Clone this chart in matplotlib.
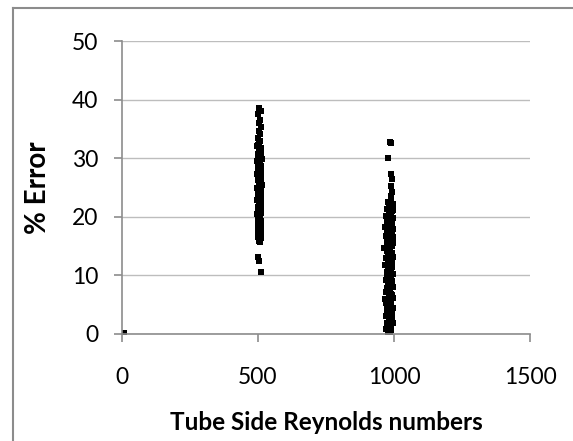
import matplotlib.pyplot as plt
from matplotlib.lines import Line2D

# points (Reynolds number, % error)
re_low = [8]
err_low = [0.2]

re_500 = [505, 512, 501, 509, 505, 511, 503, 508, 501, 509, 505, 498, 511, 502, 508,
          499, 511, 505, 513, 498, 508, 502, 512, 499, 505, 511, 502, 497, 508, 512,
          505, 499, 511, 502, 513, 508, 497, 505, 511, 499, 502, 512, 508, 505, 497,
          511, 502, 508, 499, 512, 505, 502, 511, 497, 508, 505, 499, 512, 502, 508,
          505, 511, 499, 502, 508, 512, 505, 499, 511, 502, 508, 505, 499, 512, 508,
          502, 511, 505, 499, 508, 505, 512, 502, 508, 499, 505, 511, 502,
          500, 506, 510, 503, 507, 500, 504, 509, 501, 506, 510, 503, 507, 500, 504,
          509, 501, 506, 510, 503, 507, 500, 504, 509, 501, 506, 510, 503, 507, 500,
          504, 509, 501, 506, 510, 503, 507, 500, 504, 509, 501, 506, 510, 503, 507]
err_500 = [38.6, 38.1, 37.6, 36.6, 36.0, 35.3, 34.7, 34.1, 33.5, 33.0, 32.4, 32.0, 31.7, 31.3, 31.0,
           30.8, 30.4, 30.1, 29.9, 29.6, 29.2, 29.0, 28.7, 28.5, 28.1, 27.9, 27.6, 27.3, 27.0, 26.8,
           26.5, 26.2, 26.0, 25.7, 25.5, 25.2, 24.9, 24.6, 24.4, 24.1, 23.8, 23.6, 23.3, 23.0, 22.8,
           22.5, 22.2, 22.0, 21.7, 21.5, 21.2, 20.9, 20.6, 20.4, 20.1, 19.8, 19.6, 19.3, 19.0, 18.8,
           18.5, 18.2, 18.0, 17.7, 17.5, 17.2, 16.9, 16.6, 16.3, 16.0, 15.7, 15.9, 17.1, 18.6, 20.7,
           22.6, 24.2, 26.3, 28.2, 30.5, 31.5, 27.4, 23.1, 19.4, 13.2, 12.5, 10.6, 29.4,
           32.2, 31.8, 31.1, 30.6, 30.0, 29.5, 28.9, 28.4, 27.8, 27.2, 26.7, 26.1, 25.6, 25.0, 24.5,
           23.9, 23.4, 22.9, 22.3, 21.8, 21.3, 20.8, 20.2, 19.7, 19.1, 18.6, 18.1, 17.6, 17.0, 16.5,
           30.3, 28.8, 27.1, 25.3, 23.7, 21.9, 20.3, 18.9, 17.4, 16.1, 29.7, 26.6, 24.0, 21.0, 18.3]

re_1000 = [984, 990, 978, 990, 992, 988, 991, 989, 988, 982, 996, 986, 974, 994, 980,
           990, 972, 998, 984, 976, 992, 982, 966, 996, 986, 978, 990, 970, 998, 984,
           974, 988, 980, 994, 964, 986, 976, 992, 982, 998, 972, 984, 990, 978, 968,
           994, 980, 986, 974, 996, 982, 988, 970, 992, 978, 984, 998, 976, 986, 972,
           990, 980, 994, 966, 984, 976, 988, 982, 996, 974, 986, 978, 992, 970, 984,
           980, 994, 976, 988, 982, 972, 990, 978, 986, 998, 974, 984, 980, 992, 976,
           988, 982, 970, 994, 978, 986, 984, 974, 990, 980, 996, 976, 986, 982, 972,
           992, 978, 988, 984, 974,
           977, 985, 993, 981, 989, 975, 983, 991, 979, 987, 995, 973, 981, 989, 977,
           985, 993, 979, 987, 975, 983, 991, 977, 985, 993, 981, 989, 973, 983, 991,
           979, 987, 995, 975, 985, 993, 981, 989, 977, 983, 991, 979, 987, 975, 985]
err_1000 = [32.8, 32.6, 30.0, 27.3, 26.4, 25.2, 24.3, 23.5, 22.8, 22.4, 22.1, 21.7, 21.4, 21.0, 20.7,
            20.4, 20.1, 19.8, 19.5, 19.2, 18.9, 18.6, 18.3, 18.0, 17.7, 17.4, 17.1, 16.8, 16.5, 16.2,
            15.9, 15.6, 15.3, 15.0, 14.7, 14.4, 14.1, 13.8, 13.5, 13.2, 12.9, 12.6, 12.3, 12.0, 11.7,
            11.4, 11.1, 10.8, 10.5, 10.2, 9.9, 9.6, 9.3, 9.0, 8.7, 8.4, 8.1, 7.8, 7.5, 7.2,
            6.9, 6.6, 6.3, 6.0, 5.7, 5.4, 5.1, 4.8, 4.5, 4.2, 3.9, 3.6, 3.3, 3.0, 2.7,
            2.4, 2.1, 1.8, 1.5, 1.2, 0.9, 0.6, 0.3, 0.1, 21.2, 19.0, 16.0, 14.9, 12.4, 10.0,
            8.9, 7.0, 5.3, 3.1, 1.0, 17.9, 15.4, 13.0, 11.0, 9.4, 6.1, 4.0, 2.2, 0.5, 20.2,
            16.7, 12.2, 8.0, 4.6, 1.4,
            22.6, 21.9, 21.1, 20.5, 19.7, 19.0, 18.2, 17.5, 16.9, 16.1, 15.5, 14.8, 14.2, 13.6, 12.8,
            12.1, 11.5, 10.9, 10.3, 9.7, 9.1, 8.5, 7.9, 7.3, 6.7, 6.0, 5.4, 4.9, 4.3, 3.7,
            3.2, 2.6, 1.9, 1.3, 0.7, 18.4, 15.1, 11.9, 8.6, 5.6, 2.9, 13.3, 7.6, 17.3, 10.6]

x_ticks = [0, 500, 1000, 1500]
y_ticks = [0, 10, 20, 30, 40, 50]

plt.rcParams['font.family'] = ['Lato', 'DejaVu Sans']

fig = plt.figure(figsize=(5.73, 4.41), dpi=100)
ax = fig.add_axes([122 / 573, 107 / 441, 408 / 573, 293 / 441])

ax.plot(re_low + re_500 + re_1000, err_low + err_500 + err_1000, 's',
        color='black', markersize=4.2, markeredgewidth=0)

ax.set_xlim(0, 1500)
ax.set_ylim(0, 50)
ax.set_xticks(x_ticks)
ax.set_yticks(y_ticks)
ax.yaxis.grid(True, color='#bdbdbd', linewidth=1.0)
ax.set_axisbelow(True)
for s in ['top', 'right']:
    ax.spines[s].set_visible(False)
for s in ['left', 'bottom']:
    ax.spines[s].set_color('#8c8c8c')
    ax.spines[s].set_linewidth(1.2)
ax.tick_params(axis='both', direction='out', length=6, width=1.2, color='#8c8c8c',
               labelsize=16.5, labelcolor='black')
ax.tick_params(axis='y', pad=11)
ax.tick_params(axis='x', pad=18)

ax.set_xlabel('Tube Side Reynolds numbers', fontsize=17.5, fontweight='bold')
ax.set_ylabel('% Error', fontsize=20, fontweight='bold')
ax.xaxis.set_label_coords(0.5, (334 - 423) / 293)
ax.xaxis.label.set_va('center')
ax.yaxis.set_label_coords((38 - 122) / 408, 0.5)
ax.yaxis.label.set_va('center')

# frame of the surrounding box (cut by the picture edge)
fig.add_artist(Line2D([13 / 573, 13 / 573], [0, 1 - 8 / 441], transform=fig.transFigure,
                      color='#8c8c8c', linewidth=1.5))
fig.add_artist(Line2D([13 / 573, 1], [1 - 8 / 441, 1 - 8 / 441], transform=fig.transFigure,
                      color='#8c8c8c', linewidth=1.5))

fig.savefig('out.png', dpi=100)
